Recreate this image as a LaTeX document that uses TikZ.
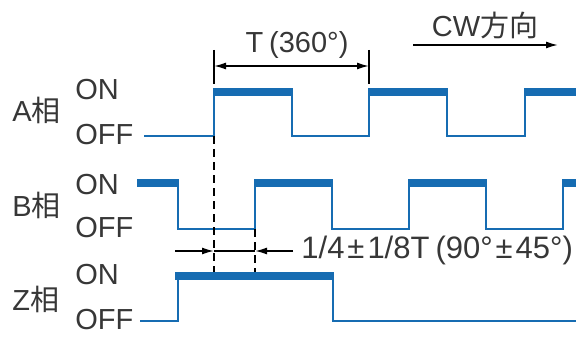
\documentclass[tikz,border=0pt]{standalone}
\usepackage{fontspec}
\setmainfont{Liberation Sans}
\newfontfamily\jp{Noto Sans CJK JP}
\usetikzlibrary{arrows.meta}
\definecolor{wave}{RGB}{22,108,178}
\definecolor{txt}{RGB}{55,55,55}

\begin{document}
\begin{tikzpicture}[x=0.5pt,y=-0.5pt,
    lbl/.style={text=txt,inner sep=0pt,font=\fontsize{14.5}{17}\selectfont},
    sig/.style={draw=wave,line width=0.9pt},
    sigon/.style={draw=wave,line width=4pt},
    dim/.style={draw=black,line width=0.8pt},
    tip/.style={-{Latex[length=6pt,width=3.5pt]}}]
    \useasboundingbox (0,0) rectangle (576,336);

    \node[lbl,anchor=west] (aname) at (12,110) {A{\jp 相}};
    \node[lbl,anchor=west] (aon) at (75,90) {ON};
    \node[lbl,anchor=west] (aoff) at (75,135) {OFF};
    \node[lbl,anchor=west] (bname) at (12,205) {B{\jp 相}};
    \node[lbl,anchor=west] (bon) at (75,185) {ON};
    \node[lbl,anchor=west] (boff) at (75,228) {OFF};
    \node[lbl,anchor=west] (zname) at (12,299) {Z{\jp 相}};
    \node[lbl,anchor=west] (zon) at (75,275) {ON};
    \node[lbl,anchor=west] (zoff) at (75,320) {OFF};

    \node[lbl] (period) at (297,45) {T\kern3pt(360°)};
    \node[lbl] (cw) at (485,25) {CW{\jp 方向}};
    \node[lbl,anchor=west,font=\fontsize{15.5}{18}\selectfont] (shift) at (301,250) {1/4\kern1.5pt±\kern1.5pt1/8T\kern3pt(90°\kern1.5pt±\kern1.5pt45°)};

    \draw[sig] (144,136) -- (214,136) -- (214,92) -- (292,92) -- (292,136) -- (369,136) -- (369,92) -- (447,92) -- (447,136) -- (525,136) -- (525,92) -- (576,92);
    \draw[sigon] (213,92) -- (293,92) (368,92) -- (448,92) (524,92) -- (576,92);

    \draw[sig] (137,183) -- (178,183) -- (178,229) -- (255,229) -- (255,183) -- (332,183) -- (332,229) -- (409,229) -- (409,183) -- (486,183) -- (486,229) -- (563,229) -- (563,183) -- (576,183);
    \draw[sigon] (137,183) -- (179,183) (254,183) -- (333,183) (408,183) -- (487,183) (562,183) -- (576,183);

    \draw[sig] (140,321) -- (178,321) -- (178,276) -- (333,276) -- (333,321) -- (576,321);
    \draw[sigon] (175,276) -- (334,276);

    \coordinate (da) at (214,136);
    \coordinate (db) at (214,272);
    \coordinate (dc) at (255,229);
    \coordinate (dd) at (255,272);
    \draw[dim,dash pattern=on 4pt off 2.5pt] (da) -- (db);
    \draw[dim,dash pattern=on 4pt off 2.5pt] (dc) -- (dd);

    \coordinate (sl) at (175,251);
    \coordinate (s1) at (214,251);
    \coordinate (s2) at (255,251);
    \coordinate (sr) at (293,251);
    \draw[dim,tip] (sl) -- (s1);
    \draw[dim] (s1) -- (s2);
    \draw[dim,tip] (sr) -- (s2);

    \coordinate (ta) at (214,50);
    \coordinate (tb) at (214,84);
    \coordinate (tc) at (369,50);
    \coordinate (td) at (369,84);
    \coordinate (tl) at (214,66);
    \coordinate (tr) at (369,66);
    \draw[dim] (ta) -- (tb);
    \draw[dim] (tc) -- (td);
    \draw[dim,{Latex[length=6pt,width=3.5pt]}-{Latex[length=6pt,width=3.5pt]}] (tl) -- (tr);

    \coordinate (cwa) at (413,45);
    \coordinate (cwb) at (558,45);
    \draw[dim,tip] (cwa) -- (cwb);
\end{tikzpicture}
\end{document}
